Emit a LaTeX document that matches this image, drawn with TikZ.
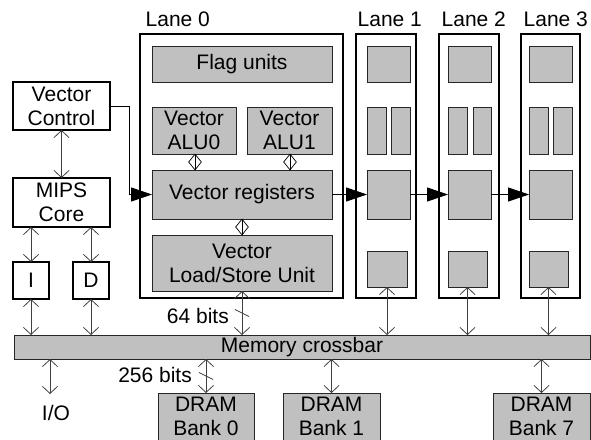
\documentclass[tikz,border=0pt]{standalone}
\usepackage{fontspec}
\setmainfont{Liberation Sans}
\usetikzlibrary{arrows.meta,shapes.geometric,calc}
\definecolor{unitgray}{HTML}{C0C0C0}
\definecolor{wiregray}{HTML}{404040}

\tikzset{
  lanebox/.style={draw=black, line width=1.2pt, inner sep=0pt, outer sep=0pt},
  unit/.style={draw=black!85, line width=0.9pt, fill=unitgray, inner sep=0pt, outer sep=0pt, align=center},
  plainbox/.style={draw=black, line width=1.1pt, fill=white, inner sep=0pt, outer sep=0pt, align=center},
  lanetag/.style={anchor=base west, inner sep=0pt},
  bus/.style={draw=wiregray, line width=0.8pt,
    {Straight Barb[length=7pt,width=15pt]}-{Straight Barb[length=7pt,width=15pt]}},
  feed/.style={draw=black, line width=0.9pt, -{Triangle[length=21pt,width=14pt]}},
  port/.style={diamond, draw=black, line width=0.7pt, minimum width=13pt,
    minimum height=16pt, inner sep=0pt},
}

% box from its corners: name, style, x1, y1, x2, y2, text
\newcommand\cornerbox[7]{%
  \node[#2, minimum width={#5-#3}, minimum height={#6-#4}] (#1)
    at ({(#3+#5)/2},{(#4+#6)/2}) {#7};}

\begin{document}
\begin{tikzpicture}[x=1pt, y=-1pt, font=\fontsize{21}{24}\selectfont]
  \useasboundingbox[fill=white] (0,0) rectangle (591,439);

  % lanes
  \cornerbox{lane0}{lanebox}{140}{34}{343}{298}{}
  \cornerbox{lane1}{lanebox}{356}{34}{416}{298}{}
  \cornerbox{lane2}{lanebox}{439}{34}{499}{298}{}
  \cornerbox{lane3}{lanebox}{521}{34}{580}{298}{}
  \node[lanetag] (tag0) at (145.5,26) {Lane 0};
  \node[lanetag] (tag1) at (357.5,26) {Lane 1};
  \node[lanetag] (tag2) at (441.5,26) {Lane 2};
  \node[lanetag] (tag3) at (523.5,26) {Lane 3};

  % lane 0 units
  \cornerbox{flag0}{unit}{152}{46}{332}{82}{Flag units}
  \cornerbox{alu0}{unit}{152}{107}{236}{154}{Vector\\ALU0}
  \cornerbox{alu1}{unit}{247}{107}{332}{154}{Vector\\ALU1}
  \cornerbox{vreg}{unit}{152}{170}{332}{219}{Vector registers}
  \cornerbox{vlsu}{unit}{152}{235}{332}{291}{Vector\\Load/Store Unit}

  % lane 1 units
  \cornerbox{flag1}{unit}{367}{46}{410}{82}{}
  \cornerbox{alua1}{unit}{367}{107}{386}{154}{}
  \cornerbox{alub1}{unit}{391}{107}{410}{154}{}
  \cornerbox{vr1}{unit}{367}{170}{410}{219}{}
  \cornerbox{ls1}{unit}{367}{251}{407}{287}{}

  % lane 2 units
  \cornerbox{flag2}{unit}{448}{46}{491}{82}{}
  \cornerbox{alua2}{unit}{448}{107}{467}{154}{}
  \cornerbox{alub2}{unit}{473}{107}{491}{154}{}
  \cornerbox{vr2}{unit}{448}{170}{491}{219}{}
  \cornerbox{ls2}{unit}{448}{251}{487}{287}{}

  % lane 3 units
  \cornerbox{flag3}{unit}{529}{46}{572}{82}{}
  \cornerbox{alua3}{unit}{529}{107}{548}{154}{}
  \cornerbox{alub3}{unit}{553}{107}{572}{154}{}
  \cornerbox{vr3}{unit}{529}{170}{572}{219}{}
  \cornerbox{ls3}{unit}{529}{251}{568}{287}{}

  % scalar side
  \cornerbox{vctrl}{plainbox}{13}{82}{110}{130}{Vector\\Control}
  \cornerbox{mips}{plainbox}{13}{178}{110}{227}{MIPS\\Core}
  \cornerbox{icache}{plainbox}{13}{262}{49}{299}{I}
  \cornerbox{dcache}{plainbox}{73}{262}{109}{299}{D}

  % crossbar and memory banks (lower border just past the edge)
  \cornerbox{xbar}{unit}{14}{335}{590}{359}{Memory crossbar}
  \cornerbox{dram0}{unit}{158}{393}{254}{440}{DRAM\\Bank 0}
  \cornerbox{dram1}{unit}{283}{393}{380}{440}{DRAM\\Bank 1}
  \cornerbox{dram7}{unit}{493}{393}{590}{440}{DRAM\\Bank 7}

  % control and scalar connections
  \draw[bus] (vctrl.south) -- (mips.north);
  \draw[feed] (vctrl.east) -- ++(19,0) |- (vreg.west);
  \draw[bus] (icache.north |- mips.south) -- (icache.north);
  \draw[bus] (dcache.north |- mips.south) -- (dcache.north);
  \draw[bus] (icache.south) -- (icache.south |- xbar.north);
  \draw[bus] (dcache.south) -- (dcache.south |- xbar.north);

  % I/O port
  \coordinate (iotip) at (50,394);
  \draw[bus] (iotip |- xbar.south) -- (iotip);
  \node[anchor=base, inner sep=0pt] (io) at (56,420) {I/O};

  % register file chain across lanes
  \draw[feed] (vreg.east) -- (vr1.west);
  \draw[feed] (vr1.east) -- (vr2.west);
  \draw[feed] (vr2.east) -- (vr3.west);

  % ports between units in lane 0
  \draw[black, line width=0.7pt] (alu0.south -| 195,0) -- (vreg.north -| 195,0)
    node[port, midway] (p0) {};
  \draw[black, line width=0.7pt] (alu1.south -| 290,0) -- (vreg.north -| 290,0)
    node[port, midway] (p1) {};
  \draw[black, line width=0.7pt] (vreg.south) -- (vlsu.north)
    node[port, midway] (p2) {};

  % lane memory ports
  \draw[bus] (vlsu.south) -- (vlsu.south |- xbar.north)
    coordinate[midway] (w64);
  \draw[wiregray, line width=0.8pt] ($(w64)+(-7,-3.5)$) -- ($(w64)+(7,3.5)$);
  \node[anchor=base east, inner sep=0pt] (b64) at (229,323) {64 bits};
  \draw[bus] (ls1.south) -- (ls1.south |- xbar.north);
  \draw[bus] (ls2.south) -- (ls2.south |- xbar.north);
  \draw[bus] (ls3.south) -- (ls3.south |- xbar.north);

  % memory bank ports
  \draw[bus] (dram0.north |- xbar.south) -- (dram0.north)
    coordinate[midway] (w256);
  \draw[wiregray, line width=0.8pt] ($(w256)+(-7,-3.5)$) -- ($(w256)+(7,3.5)$);
  \node[anchor=base east, inner sep=0pt] (b256) at (192,382) {256 bits};
  \draw[bus] (dram1.north |- xbar.south) -- (dram1.north);
  \draw[bus] (dram7.north |- xbar.south) -- (dram7.north);
\end{tikzpicture}
\end{document}
